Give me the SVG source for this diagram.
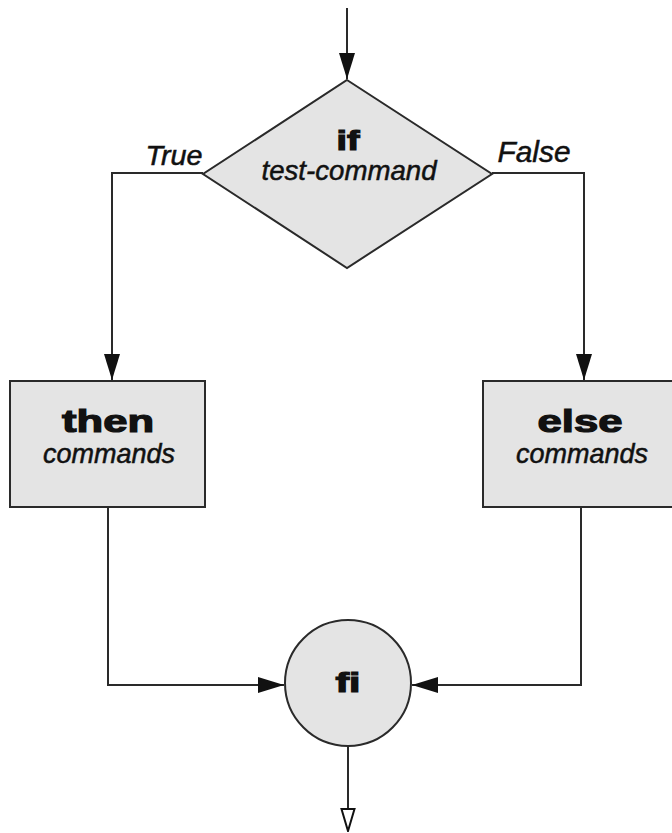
<svg xmlns="http://www.w3.org/2000/svg" width="672" height="833" viewBox="0 0 672 833">
  <style>
    text { font-variant-ligatures: none; }
    .shape { fill: #e4e4e4; stroke: #2a2a2a; stroke-width: 2; }
    .wire { fill: none; stroke: #2a2a2a; stroke-width: 2; }
    .kw { font-family: "Liberation Sans", Arial, sans-serif; font-weight: bold; fill: #111; stroke: #111; stroke-width: 1.2; text-anchor: middle; }
    .it { font-family: "Liberation Sans", Arial, sans-serif; font-style: italic; fill: #111; stroke: #111; stroke-width: 0.5; text-anchor: middle; }
  </style>
  <defs>
    <marker id="arrow" viewBox="0 0 26 16" refX="26" refY="8" markerWidth="26" markerHeight="16" markerUnits="userSpaceOnUse" orient="auto">
      <path d="M0,0 L26,8 L0,16 Z" fill="#111"/>
    </marker>
    <marker id="open-arrow" viewBox="0 0 24 16" refX="23" refY="8" markerWidth="24" markerHeight="16" markerUnits="userSpaceOnUse" orient="auto">
      <path d="M1,1.5 L23,8 L1,14.5 Z" fill="#fff" stroke="#111" stroke-width="2"/>
    </marker>
  </defs>
  <rect width="672" height="833" fill="#fff"/>

  <g id="connectors">
    <path class="wire" d="M347,8 V79" marker-end="url(#arrow)"/>
    <path class="wire" d="M203,173 H112 V380" marker-end="url(#arrow)"/>
    <path class="wire" d="M492,173 H584 V380" marker-end="url(#arrow)"/>
    <path class="wire" d="M108,507 V685 H284" marker-end="url(#arrow)"/>
    <path class="wire" d="M581,507 V685 H412" marker-end="url(#arrow)"/>
    <path class="wire" d="M348,745 V831" marker-end="url(#open-arrow)"/>
    <text class="it" x="174" y="165" font-size="28" textLength="57" lengthAdjust="spacingAndGlyphs">True</text>
    <text class="it" x="534" y="162" font-size="29" textLength="73" lengthAdjust="spacingAndGlyphs">False</text>
  </g>

  <g id="if-node">
    <polygon class="shape" points="347,80 492,174 347,268 203,174"/>
    <text class="kw" x="348" y="150" font-size="28" textLength="23" lengthAdjust="spacingAndGlyphs">if</text>
    <text class="it" x="349" y="180" font-size="28" textLength="175" lengthAdjust="spacingAndGlyphs">test-command</text>
  </g>

  <g id="then-node">
    <rect class="shape" x="10" y="381" width="195" height="126"/>
    <text class="kw" x="108" y="432" font-size="31" textLength="92" lengthAdjust="spacingAndGlyphs">then</text>
    <text class="it" x="109" y="463" font-size="28" textLength="132" lengthAdjust="spacingAndGlyphs">commands</text>
  </g>

  <g id="else-node">
    <rect class="shape" x="483" y="381" width="197" height="126"/>
    <text class="kw" x="580" y="432" font-size="31" textLength="85" lengthAdjust="spacingAndGlyphs">else</text>
    <text class="it" x="582" y="463" font-size="28" textLength="132" lengthAdjust="spacingAndGlyphs">commands</text>
  </g>

  <g id="fi-node">
    <circle class="shape" cx="348" cy="683" r="63"/>
    <text class="kw" x="348" y="692" font-size="28" textLength="25" lengthAdjust="spacingAndGlyphs">fi</text>
  </g>
</svg>
